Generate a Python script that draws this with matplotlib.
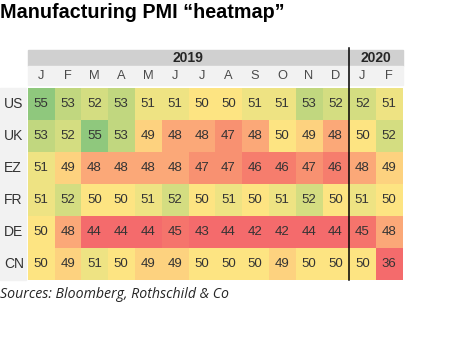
import numpy as np
import matplotlib
matplotlib.use("Agg")
import matplotlib.pyplot as plt
from matplotlib.colors import LinearSegmentedColormap, Normalize
from matplotlib.patches import Rectangle

COUNTRIES = ["US", "UK", "EZ", "FR", "DE", "CN"]
MONTHS = ["J", "F", "M", "A", "M", "J", "J", "A", "S", "O", "N", "D", "J", "F"]
YEARS = ["2019", "2020"]
YEAR_SPAN = [12, 2]

US = [55, 53, 52, 53, 51, 51, 50, 50, 51, 51, 53, 52, 52, 51]
UK = [53, 52, 55, 53, 49, 48, 48, 47, 48, 50, 49, 48, 50, 52]
EZ = [51, 49, 48, 48, 48, 48, 47, 47, 46, 46, 47, 46, 48, 49]
FR = [51, 52, 50, 50, 51, 52, 50, 51, 50, 51, 52, 50, 51, 50]
DE = [50, 48, 44, 44, 44, 45, 43, 44, 42, 42, 44, 44, 45, 48]
CN = [50, 49, 51, 50, 49, 49, 50, 50, 50, 49, 50, 50, 50, 36]

# excel-like red / yellow / green scale, clipped at the low end
stops = [(44, "#F46B6C"), (46, "#F77E6E"), (47, "#F99272"), (48, "#FBA878"),
         (49, "#FDD27F"), (50, "#FEE583"), (51, "#EEE383"), (52, "#D5DE82"),
         (53, "#C2D880"), (55, "#8FC87D")]
lo, hi = stops[0][0], stops[-1][0]
cmap = LinearSegmentedColormap.from_list(
    "pmi", [((v - lo) / (hi - lo), c) for v, c in stops])
norm = Normalize(vmin=lo, vmax=hi, clip=True)

W, H = 451, 344
fig = plt.figure(figsize=(W / 100, H / 100), dpi=100)
ax = fig.add_axes([0, 0, 1, 1])
ax.set_xlim(0, W)
ax.set_ylim(H, 0)
ax.axis("off")

x0, x1 = 27.5, 402.5
cw = (x1 - x0) / len(MONTHS)
yr_top, yr_bot = 50, 66
mo_bot = 85
d_top, d_bot = 88, 280
rh = (d_bot - d_top) / len(COUNTRIES)

vals = np.array([US, UK, EZ, FR, DE, CN])
ax.imshow(vals, cmap=cmap, norm=norm, extent=(x0, x1, d_bot, d_top),
          interpolation="nearest", aspect="auto", zorder=1)

num_font = dict(family="Liberation Sans", fontsize=9.5, color="#333333")
for i, c in enumerate(COUNTRIES):
    for j in range(len(MONTHS)):
        ax.text(x0 + (j + 0.5) * cw, d_top + (i + 0.5) * rh, str(vals[i, j]),
                ha="center", va="center", zorder=3, **num_font)
    ax.text(4, d_top + (i + 0.5) * rh, c, ha="left", va="center", zorder=3,
            family="Liberation Sans", fontsize=10, color="#333333")

# header rows
ax.add_patch(Rectangle((0, d_top), 25.5, d_bot - d_top, color="#f2f2f2", zorder=0))
ax.add_patch(Rectangle((x0, yr_top), x1 - x0, yr_bot - yr_top, color="#d0d0d0", zorder=0))
ax.add_patch(Rectangle((x0, yr_bot), x1 - x0, mo_bot - yr_bot, color="#f2f2f2", zorder=0))
for j, m in enumerate(MONTHS):
    ax.text(x0 + (j + 0.5) * cw, (yr_bot + mo_bot) / 2 + 0.5, m, ha="center",
            va="center", family="Liberation Sans", fontsize=9.3, color="#4a4a4a")
start = 0
for y, n in zip(YEARS, YEAR_SPAN):
    ax.text(x0 + (start + n / 2) * cw, (yr_top + yr_bot) / 2 + 0.5, y,
            ha="center", va="center", family="Liberation Sans",
            fontsize=10, fontweight="bold", color="#262626")
    start += n

# year break
xb = x0 + YEAR_SPAN[0] * cw
ax.plot([xb, xb], [48, d_bot], color="black", lw=1.1, zorder=4)

ax.text(0, 3, "Manufacturing PMI \u201cheatmap\u201d", ha="left", va="top",
        family="Liberation Sans", fontsize=14.2, fontweight="bold", color="black")
ax.text(0, 295, "Sources: Bloomberg, Rothschild & Co", ha="left", va="center",
        family="Open Sans", style="italic", fontsize=10.2, color="#262626")

fig.savefig("out.png", dpi=100)
